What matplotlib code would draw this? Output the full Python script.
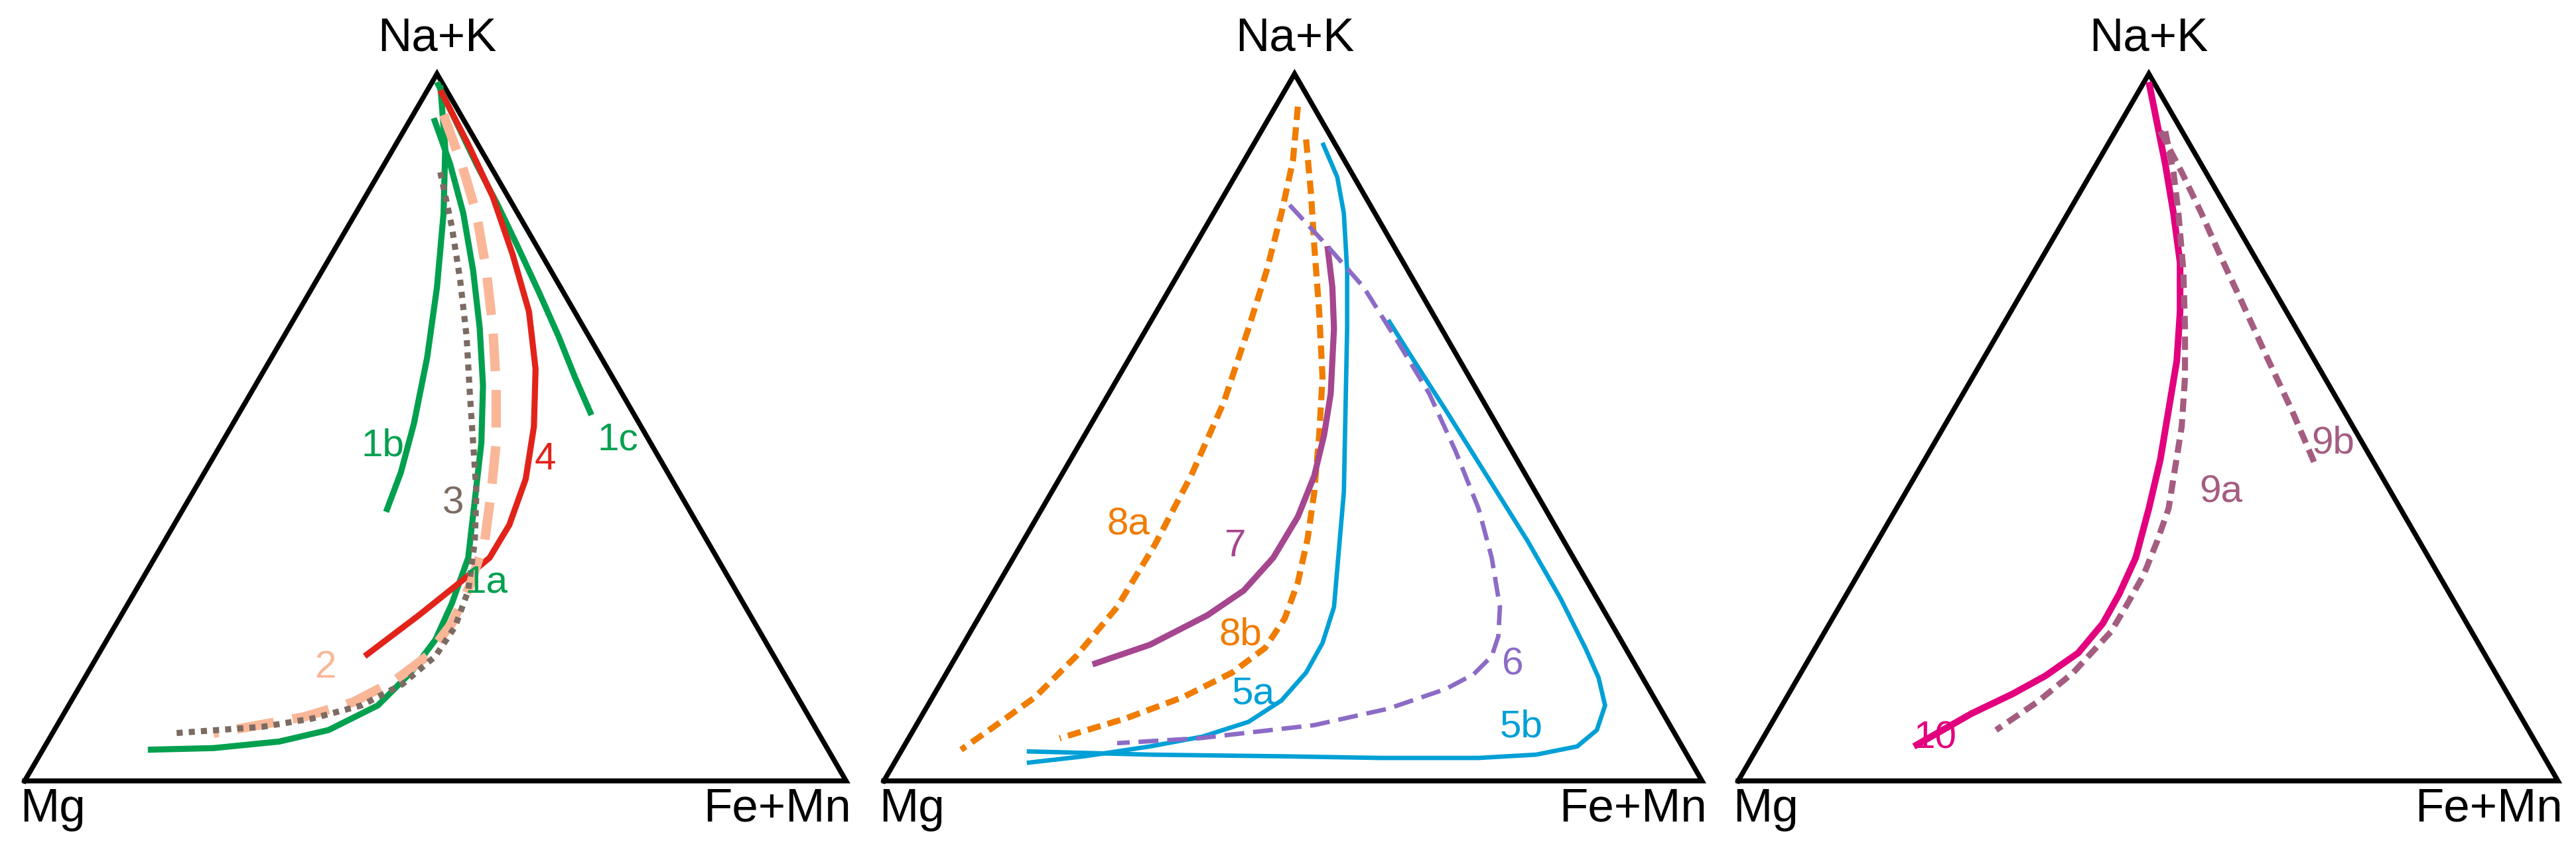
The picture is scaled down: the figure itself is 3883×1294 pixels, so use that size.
import matplotlib

matplotlib.use("Agg")
import matplotlib.pyplot as plt

# coordinates are in reference-image units (1568 x 523, y down)
W, H = 1568, 523

triangles = [
    [(15, 476), (515, 476), (266, 45)],
    [(538, 476), (1036, 476), (788, 45)],
    [(1058, 476), (1557, 476), (1308, 45)],
]
apex_labels = ["Na+K", "Na+K", "Na+K"]
left_labels = ["Mg", "Mg", "Mg"]
right_labels = ["Fe+Mn", "Fe+Mn", "Fe+Mn"]

GREEN, RED, PEACH, GRAY = "#00A04F", "#E2231A", "#F9B798", "#7B6B62"
ORANGE, PURPLE, LAVENDER, CYAN = "#F07C00", "#A5468F", "#8C6BC6", "#00A0D6"
MAGENTA, MAUVE = "#E2007E", "#A45D80"

# (x list, y list, colour, linestyle, width)
curves = {
    "1c": ([266, 278, 290, 303, 315, 328, 340, 350, 360],
           [50, 75, 100, 125, 150, 178, 205, 230, 253], GREEN, "-", 2.2),
    "1b": ([268, 271, 270, 266, 260, 252, 244, 235],
           [52, 90, 130, 175, 218, 258, 288, 312], GREEN, "-", 2.2),
    "1a": ([264, 274, 282, 288, 292, 294, 293, 285, 275, 265, 250, 230, 200, 170, 130, 90],
           [72, 100, 130, 165, 200, 235, 270, 340, 368, 390, 410, 430, 445, 452, 456, 457], GREEN, "-", 2.2),
    "4": ([268, 285, 300, 312, 322, 326, 325, 320, 310, 298, 280, 255, 222],
          [55, 88, 120, 155, 190, 225, 260, 292, 320, 340, 355, 375, 400], RED, "-", 2.2),
    "2": ([270, 281, 290, 296, 300, 302, 302, 299, 295, 286, 275, 260, 240, 215, 185, 130],
          [70, 100, 130, 165, 200, 235, 270, 300, 330, 357, 380, 400, 415, 428, 437, 447], PEACH, (0, (4, 2)), 3.4),
    "3": ([268, 275, 280, 284, 286, 288, 290, 289, 285, 277, 265, 245, 220, 190, 160, 105],
          [105, 138, 170, 205, 240, 270, 300, 330, 360, 382, 400, 417, 430, 438, 443, 447], GRAY, (0, (1, 1)), 2.2),
    "8a": ([790, 787, 780, 771, 760, 745, 725, 703, 680, 655, 630, 605, 585],
           [65, 98, 130, 165, 200, 245, 290, 332, 370, 400, 425, 443, 457], ORANGE, (0, (2.2, 1.2)), 2.2),
    "8b": ([795, 798, 800, 803, 805, 803, 800, 796, 790, 782, 770, 750, 720, 685, 645],
           [85, 118, 150, 190, 230, 265, 300, 328, 355, 377, 395, 410, 425, 438, 450], ORANGE, (0, (2.2, 1.2)), 2.2),
    "7": ([808, 811, 812, 811, 810, 806, 800, 790, 775, 757, 735, 700, 665],
          [150, 175, 200, 220, 240, 265, 290, 315, 340, 360, 375, 393, 405], PURPLE, "-", 2.2),
    "5a": ([805, 814, 818, 820, 820, 819, 818, 815, 812, 805, 795, 780, 760, 732, 700, 660, 625],
           [87, 108, 130, 165, 200, 250, 300, 335, 370, 392, 410, 427, 440, 449, 455, 461, 465], CYAN, "-", 1.6),
    "5b": ([845, 862, 880, 905, 930, 950, 965, 973, 977, 972, 960, 935, 900, 840, 780, 700, 625],
           [195, 222, 250, 290, 330, 365, 395, 413, 430, 445, 455, 460, 462, 462, 461, 460, 458], CYAN, "-", 1.6),
    "6": ([785, 808, 830, 850, 870, 886, 900, 908, 913, 912, 908, 897, 880, 845, 800, 730, 680],
          [125, 150, 175, 207, 240, 275, 310, 340, 370, 388, 400, 411, 420, 432, 442, 450, 453], LAVENDER, (0, (4.5, 2)), 1.6),
    "10": ([1308, 1313, 1318, 1323, 1327, 1327, 1325, 1320, 1315, 1308, 1300, 1290, 1280, 1265, 1245, 1225, 1200, 1165],
           [50, 75, 100, 130, 160, 190, 220, 250, 280, 310, 340, 362, 380, 398, 412, 423, 435, 455], MAGENTA, "-", 2.4),
    "9a": ([1318, 1323, 1326, 1329, 1330, 1330, 1328, 1324, 1320, 1313, 1305, 1295, 1285, 1262, 1240, 1215],
           [80, 105, 130, 165, 200, 230, 260, 285, 310, 330, 350, 368, 385, 410, 428, 445], MAUVE, (0, (2.2, 1.2)), 2.2),
    "9b": ([1315, 1328, 1340, 1352, 1365, 1380, 1395, 1410],
           [80, 105, 130, 157, 185, 218, 250, 285], MAUVE, (0, (2.2, 1.2)), 2.2),
}

# label name -> (x, y, colour)
labels = {
    "1b": (233, 272, GREEN), "3": (276, 307, GRAY), "4": (332, 280, RED),
    "1c": (376, 268, GREEN), "1a": (296, 355, GREEN), "2": (198, 407, PEACH),
    "8a": (687, 320, ORANGE), "7": (752, 333, PURPLE), "8b": (755, 387, ORANGE),
    "5a": (763, 423, CYAN), "6": (921, 405, LAVENDER), "5b": (926, 443, CYAN),
    "10": (1178, 450, MAGENTA), "9a": (1352, 300, MAUVE), "9b": (1420, 270, MAUVE),
}

fig = plt.figure(figsize=(3883 / 300, 1294 / 300), dpi=300)
ax = fig.add_axes([0, 0, 1, 1])
ax.set_xlim(0, W)
ax.set_ylim(H, 0)
ax.axis("off")

for tri, top, left, right in zip(triangles, apex_labels, left_labels, right_labels):
    xs = [p[0] for p in tri] + [tri[0][0]]
    ys = [p[1] for p in tri] + [tri[0][1]]
    ax.plot(xs, ys, color="black", lw=1.8, solid_joinstyle="miter")
    ax.text(tri[2][0], tri[2][1] - 8, top, ha="center", va="bottom", fontsize=17,
            family="Liberation Sans")
    ax.text(tri[0][0] - 3, tri[0][1] + 4, left, ha="left", va="top", fontsize=17,
            family="Liberation Sans")
    ax.text(tri[1][0] + 3, tri[1][1] + 4, right, ha="right", va="top", fontsize=17,
            family="Liberation Sans")

for name, (xs, ys, color, ls, lw) in curves.items():
    ax.plot(xs, ys, color=color, ls=ls, lw=lw, solid_capstyle="butt")

for name, (x, y, color) in labels.items():
    ax.text(x, y, name, color=color, ha="center", va="center", fontsize=14,
            family="Liberation Sans")

fig.savefig("out.png", dpi=300)
